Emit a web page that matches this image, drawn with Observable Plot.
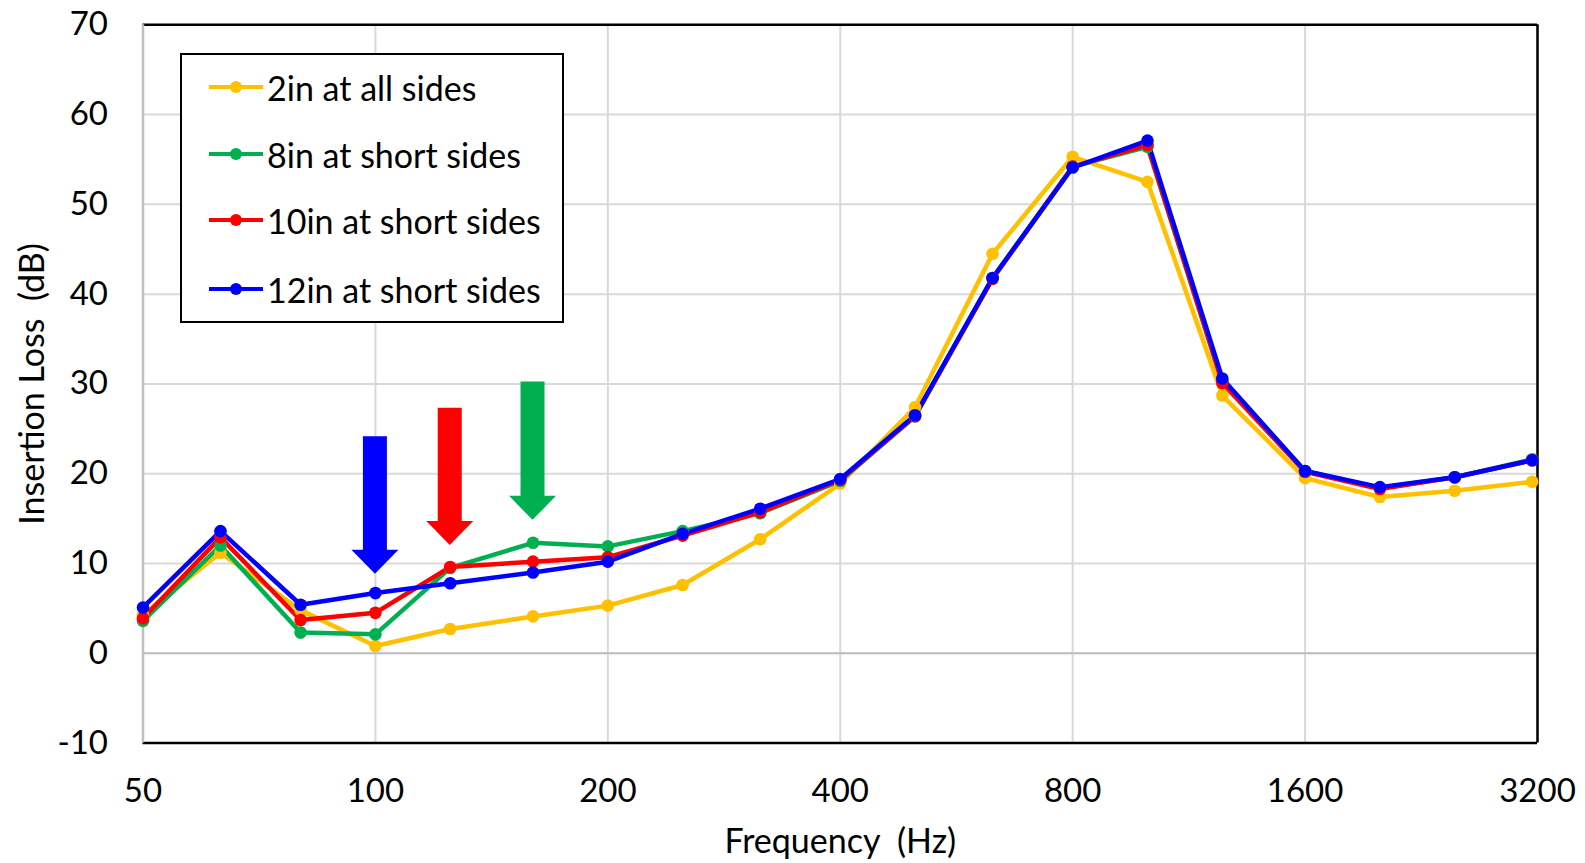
<!DOCTYPE html>
<html>
<head>
<meta charset="utf-8">
<script src="https://cdn.jsdelivr.net/npm/d3@7"></script>
<script src="https://cdn.jsdelivr.net/npm/@observablehq/plot@0.6"></script>
<style>
  html, body { margin: 0; padding: 0; background: #fff; }
  #wrap { position: relative; width: 1585px; height: 863px; font-family: Lato, "Open Sans", sans-serif; }
  #legend { position: absolute; left: 180px; top: 53px; width: 384px; height: 270px; border: 2px solid #000; background: #fff; box-sizing: border-box; }
  .item { position: absolute; left: 0; height: 40px; display: flex; align-items: center; font-size: 34px; color: #000; white-space: nowrap; }
  .item svg { margin-left: 27px; margin-right: 4px; }
</style>
</head>
<body>
<div id="wrap"><div id="chart"></div><div id="legend"></div></div>
<script>
// ---- data ----
const freqs = [50, 63, 80, 100, 125, 160, 200, 250, 315, 400, 500, 630, 800, 1000, 1250, 1600, 2000, 2500, 3150];
const il2inAll    = [4.3, 11.2, 4.8, 0.8, 2.7, 4.1, 5.3, 7.6, 12.7, 18.9, 27.4, 44.5, 55.3, 52.5, 28.7, 19.5, 17.4, 18.1, 19.1];
const il8inShort  = [3.6, 12.0, 2.3, 2.1, 9.5, 12.3, 11.9, 13.6, 15.6, 19.2, 26.4, 41.8, 54.2, 56.4, 30.3, 20.3, 18.4, 19.6, 21.6];
const il10inShort = [3.9, 12.9, 3.7, 4.5, 9.6, 10.2, 10.7, 13.1, 15.7, 19.3, 26.4, 41.7, 54.2, 56.6, 30.1, 20.2, 18.3, 19.6, 21.5];
const il12inShort = [5.1, 13.6, 5.4, 6.7, 7.8, 9.0, 10.2, 13.3, 16.1, 19.4, 26.5, 41.8, 54.1, 57.1, 30.6, 20.3, 18.5, 19.6, 21.5];
const seriesNames  = ["2in at all sides", "8in at short sides", "10in at short sides", "12in at short sides"];
const seriesColors = ["#FFC000", "#00B050", "#FF0000", "#0000FF"];
const xTicks = [50, 100, 200, 400, 800, 1600, 3200];
const yTicks = [-10, 0, 10, 20, 30, 40, 50, 60, 70];
// annotation arrows (frequency, top value, tip value, colour)
const arrowFreq  = [100, 125, 160];
const arrowTop   = [24.1, 27.3, 30.2];
const arrowTip   = [8.8, 12.0, 14.8];
const arrowColor = ["#0000FF", "#FF0000", "#00B050"];

const seriesValues = [il2inAll, il8inShort, il10inShort, il12inShort];
const rows = [];
seriesNames.forEach((s, i) => freqs.forEach((f, j) => rows.push({series: s, freq: f, il: seriesValues[i][j]})));
const arrows = arrowFreq.map((f, i) => ({freq: f, top: arrowTop[i], tip: arrowTip[i], color: arrowColor[i]}));

function arrowMark(data) {
  return (index, scales) => {
    const g = d3.create("svg:g");
    const shaftW = 24, headW = 47, headL = 24;
    for (const a of data) {
      const x = scales.x(a.freq), y0 = scales.y(a.top), y1 = scales.y(a.tip);
      const yh = y1 - headL;
      const p = `M${x - shaftW/2},${y0}L${x + shaftW/2},${y0}L${x + shaftW/2},${yh}L${x + headW/2},${yh}L${x},${y1}L${x - headW/2},${yh}L${x - shaftW/2},${yh}Z`;
      g.append("path").attr("d", p).attr("fill", a.color);
    }
    return g.node();
  };
}

const chart = Plot.plot({
  width: 1585,
  height: 863,
  marginLeft: 142.5,
  marginRight: 48,
  marginTop: 24.3,
  marginBottom: 120.5,
  style: {fontFamily: "Lato, 'Open Sans', sans-serif", fontSize: "33px", color: "#000", background: "#fff"},
  x: {type: "log", base: 2, domain: [50, 3200]},
  y: {domain: [-10, 70]},
  color: {domain: seriesNames, range: seriesColors},
  marks: [
    Plot.gridX(xTicks, {stroke: "#d9d9d9", strokeOpacity: 1, strokeWidth: 2}),
    Plot.gridY(yTicks, {stroke: "#d9d9d9", strokeOpacity: 1, strokeWidth: 2}),
    Plot.ruleY([0], {stroke: "#bfbfbf", strokeWidth: 2}),
    Plot.ruleY([70], {stroke: "#000", strokeWidth: 2.5}),
    Plot.ruleY([-10], {stroke: "#000", strokeWidth: 2.5}),
    Plot.ruleX([3200], {stroke: "#000", strokeWidth: 2.5}),
    Plot.ruleX([50], {stroke: "#bfbfbf", strokeWidth: 2.5}),
    Plot.axisX(xTicks, {tickSize: 0, tickPadding: 36, tickFormat: d => String(d), label: null, fontSize: 33}),
    Plot.axisY(yTicks, {tickSize: 0, tickPadding: 35, tickFormat: d => String(d), label: null, fontSize: 33}),
    arrowMark(arrows),
    Plot.line(rows, {x: "freq", y: "il", z: "series", stroke: "series", strokeWidth: 4.5, curve: "linear"}),
    Plot.dot(rows, {x: "freq", y: "il", fill: "series", r: 6.3}),
    Plot.text(["Frequency\u00a0 (Hz)"], {frameAnchor: "bottom", dy: 110, fontSize: 34, fill: "#000", textAnchor: "middle"}),
    Plot.text(["Insertion Loss\u00a0 (dB)"], {frameAnchor: "left", dx: -110, rotate: -90, fontSize: 34, fill: "#000", textAnchor: "middle"})
  ]
});
document.getElementById("chart").appendChild(chart);

// legend
const legend = document.getElementById("legend");
const legendY = [32, 99, 165, 234];
seriesNames.forEach((name, i) => {
  const item = document.createElement("div");
  item.className = "item";
  item.style.top = (legendY[i] - 20) + "px";
  item.innerHTML = `<svg width="54" height="14"><line x1="0" y1="7" x2="54" y2="7" stroke="${seriesColors[i]}" stroke-width="4"/><circle cx="27" cy="7" r="6" fill="${seriesColors[i]}"/></svg><span>${name}</span>`;
  legend.appendChild(item);
});
</script>
</body>
</html>
